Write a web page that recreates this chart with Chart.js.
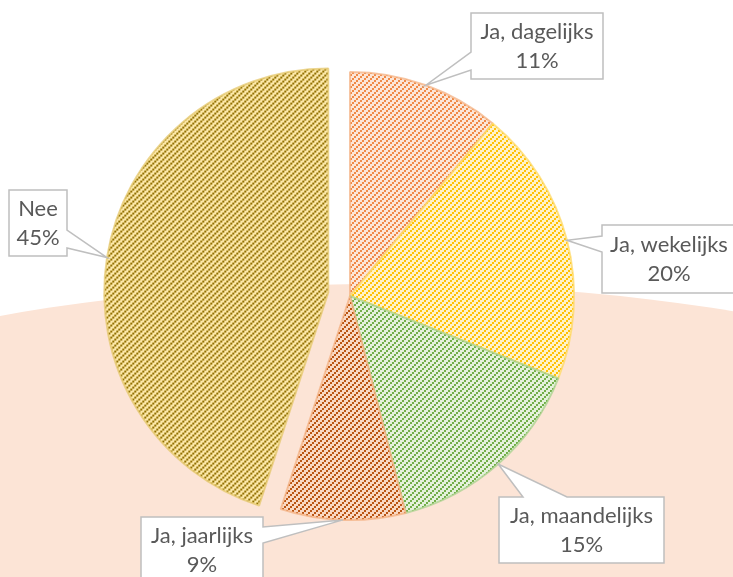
<!DOCTYPE html>
<html>
<head>
<meta charset="utf-8">
<script src="https://cdn.jsdelivr.net/npm/chart.js@4.4.1/dist/chart.umd.min.js"></script>
<style>
  html, body { margin: 0; padding: 0; background: #fff; }
  #wrap { position: relative; width: 733px; height: 577px; }
</style>
</head>
<body>
<div id="wrap"><canvas id="pieChart"></canvas></div>
<script>
// data
const categories = ["Ja, dagelijks", "Ja, wekelijks", "Ja, maandelijks", "Ja, jaarlijks", "Nee"];
const percentages = [11, 20, 15, 9, 45];

// styling
const baseColors = ["#FCE6D8", "#FFF2C9", "#E4F1DB", "#F9D8C3", "#FCE8A8"];
const stripeColors = ["#F08A46", "#FFC107", "#72AE48", "#BA5512", "#927000"];
const edgeColors = [
  "rgba(244,177,131,0.75)",
  "rgba(255,217,102,0.75)",
  "rgba(169,209,142,0.75)",
  "rgba(244,177,131,0.75)",
  "rgba(230,200,110,0.75)",
];
const explodeIndex = 4;
const explodeDistance = 22;

// callout boxes (layout only): x, y, w, h, side of the pointer, pointer base range
const calloutBoxes = [
  { x: 471, y: 13, w: 132, h: 66, side: "left", a: 52, b: 70 },
  { x: 602, y: 225, w: 134, h: 68, side: "left", a: 236, b: 252 },
  { x: 499, y: 497, w: 165, h: 66, side: "top", a: 523, b: 567 },
  { x: 141, y: 517, w: 122, h: 66, side: "right", a: 527, b: 543 },
  { x: 9, y: 190, w: 58, h: 66, side: "right", a: 230, b: 248 },
];

const canvas = document.getElementById("pieChart");
const mainCtx = canvas.getContext("2d");

function makePattern(base, stripe) {
  const size = 6;
  const tile = document.createElement("canvas");
  tile.width = size;
  tile.height = size;
  const g = tile.getContext("2d");
  g.fillStyle = base;
  g.fillRect(0, 0, size, size);
  g.fillStyle = stripe;
  for (let i = 0; i < size; i += 2) {
    g.fillRect(i, size - 2 - i, 2, 2);
  }
  return mainCtx.createPattern(tile, "repeat");
}

const patterns = baseColors.map((b, i) => makePattern(b, stripeColors[i]));

const backdrop = {
  id: "backdrop",
  beforeDraw(chart) {
    const ctx = chart.ctx;
    ctx.save();
    ctx.fillStyle = "#ffffff";
    ctx.fillRect(0, 0, chart.width, chart.height);
    ctx.fillStyle = "#FCE4D6";
    ctx.beginPath();
    ctx.ellipse(380, 484, 700, 200, 0, 0, Math.PI * 2);
    ctx.fill();
    ctx.restore();
  },
};

function explodeShift(arc, i) {
  if (i !== explodeIndex) return { dx: 0, dy: 0 };
  const mid = (arc.startAngle + arc.endAngle) / 2;
  return { dx: Math.cos(mid) * explodeDistance, dy: Math.sin(mid) * explodeDistance };
}

const explode = {
  id: "explode",
  beforeDatasetDraw(chart, args) {
    const ctx = chart.ctx;
    args.meta.data.forEach((arc, i) => {
      const s = explodeShift(arc, i);
      ctx.save();
      ctx.translate(s.dx, s.dy);
      arc.draw(ctx);
      ctx.restore();
    });
    return false;
  },
};

const callouts = {
  id: "callouts",
  afterDatasetsDraw(chart) {
    const ctx = chart.ctx;
    const meta = chart.getDatasetMeta(0);
    meta.data.forEach((arc, i) => {
      const box = calloutBoxes[i];
      const s = explodeShift(arc, i);
      const mid = (arc.startAngle + arc.endAngle) / 2;
      const tx = arc.x + Math.cos(mid) * arc.outerRadius + s.dx;
      const ty = arc.y + Math.sin(mid) * arc.outerRadius + s.dy;
      const x0 = box.x, y0 = box.y, x1 = box.x + box.w, y1 = box.y + box.h;

      ctx.save();
      ctx.beginPath();
      if (box.side === "left") {
        ctx.moveTo(x0, y0); ctx.lineTo(x1, y0); ctx.lineTo(x1, y1); ctx.lineTo(x0, y1);
        ctx.lineTo(x0, box.b); ctx.lineTo(tx, ty); ctx.lineTo(x0, box.a);
      } else if (box.side === "right") {
        ctx.moveTo(x0, y0); ctx.lineTo(x1, y0); ctx.lineTo(x1, box.a); ctx.lineTo(tx, ty);
        ctx.lineTo(x1, box.b); ctx.lineTo(x1, y1); ctx.lineTo(x0, y1);
      } else {
        ctx.moveTo(x0, y0); ctx.lineTo(box.a, y0); ctx.lineTo(tx, ty); ctx.lineTo(box.b, y0);
        ctx.lineTo(x1, y0); ctx.lineTo(x1, y1); ctx.lineTo(x0, y1);
      }
      ctx.closePath();
      ctx.fillStyle = "#ffffff";
      ctx.fill();
      ctx.lineWidth = 1.5;
      ctx.strokeStyle = "#BFBFBF";
      ctx.stroke();

      ctx.fillStyle = "#595959";
      ctx.font = "22px Lato, 'Open Sans', sans-serif";
      ctx.textAlign = "center";
      ctx.textBaseline = "middle";
      const cx = (x0 + x1) / 2;
      const cy = (y0 + y1) / 2;
      ctx.fillText(categories[i], cx, cy - 14);
      ctx.fillText(percentages[i] + "%", cx, cy + 15);
      ctx.restore();
    });
  },
};

new Chart(canvas, {
  type: "pie",
  data: {
    labels: categories,
    datasets: [
      {
        data: percentages,
        backgroundColor: patterns,
        borderColor: edgeColors,
        borderWidth: 2,
        hoverBorderWidth: 2,
        hoverOffset: 0,
      },
    ],
  },
  options: {
    responsive: true,
    maintainAspectRatio: false,
    animation: false,
    events: [],
    layout: { padding: { top: 71, bottom: 56, left: 0, right: 33 } },
    plugins: {
      legend: { display: false },
      tooltip: { enabled: false },
    },
  },
  plugins: [backdrop, explode, callouts],
});
</script>
</body>
</html>
